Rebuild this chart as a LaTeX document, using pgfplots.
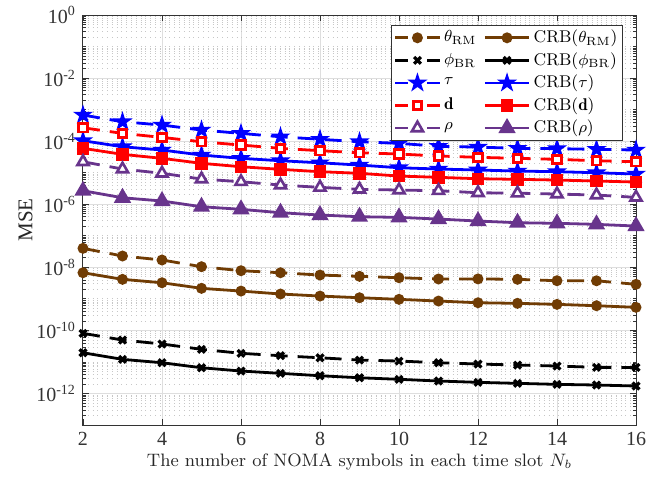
\documentclass[border=0pt]{standalone}
\usepackage{pgfplots}
\pgfplotsset{compat=1.18}
\usepackage{fontspec}
\newfontfamily\timesfont{Liberation Serif}
\definecolor{mybrown}{RGB}{112,60,4}
\definecolor{mypurple}{RGB}{104,52,140}
\definecolor{gridc}{RGB}{222,222,222}
\pgfdeclareplotmark{pent}{%
  \pgfpathmoveto{\pgfpointpolar{90}{\pgfplotmarksize}}%
  \pgfpathlineto{\pgfpointpolar{234}{\pgfplotmarksize}}%
  \pgfpathlineto{\pgfpointpolar{18}{\pgfplotmarksize}}%
  \pgfpathlineto{\pgfpointpolar{162}{\pgfplotmarksize}}%
  \pgfpathlineto{\pgfpointpolar{306}{\pgfplotmarksize}}%
  \pgfpathclose\pgfusepathqfillstroke}
\def\minorlist{}
\foreach \e in {-13,...,-1}{\foreach \k in {2,...,9}{\xdef\minorlist{\minorlist\k e\e,}}}
\xdef\minorlist{\minorlist 1e-11,1e-9,1e-7,1e-5,1e-3,1e-1}
\pgfplotsset{
  dsh/.style={dash pattern=on 8.5pt off 5pt, legend image post style={dash pattern=on 6.5pt off 9.5pt}},
}
\begin{document}
\begin{tikzpicture}
\begin{axis}[
  scale only axis,
  width=276.5pt, height=205pt,
  ymode=log, log basis y=10,
  xmin=2, xmax=16, ymin=1e-13, ymax=1,
  xtick={2,4,...,16},
  ytick={1e-12,1e-10,1e-8,1e-6,1e-4,1e-2,1},
  yticklabels={10\textsuperscript{-12},10\textsuperscript{-10},10\textsuperscript{-8},10\textsuperscript{-6},10\textsuperscript{-4},10\textsuperscript{-2},10\textsuperscript{0}},
  minor ytick/.expanded={\minorlist},
  /pgf/number format/assume math mode=true,
  tick label style={font=\timesfont\fontsize{10}{12}\selectfont, text=black!80},
  xmajorgrids, ymajorgrids, yminorgrids,
  major grid style={gridc, line width=0.5pt},
  minor grid style={black!22, dotted, line width=0.4pt},
  axis line style={black!80, line width=0.5pt},
  every tick/.style={black!80, line width=0.4pt},
  major tick length=3pt, minor tick length=1.6pt,
  xlabel={The number of NOMA symbols in each time slot $N_b$},
  ylabel={\timesfont\fontsize{10.5}{12}\selectfont MSE},
  label style={font=\fontsize{9}{11}\selectfont, text=black!85},
  xlabel style={yshift=3pt},
  ylabel style={yshift=-5pt},
  clip mode=individual,
  legend columns=2,
  legend cell align=left,
  legend style={at={(1,1)}, anchor=north east, xshift=-6.5pt, yshift=-5pt,
    draw=black!80, line width=0.5pt, fill=white, inner sep=1pt,
    font=\fontsize{8.5}{10}\selectfont,
    nodes={inner xsep=1.5pt, inner ysep=1.2pt},
    /tikz/every even column/.append style={column sep=2pt},
    row sep=1pt},
  legend image code/.code={\draw[mark repeat=2,mark phase=2] plot coordinates {(0cm,0cm) (0.39cm,0cm) (0.78cm,0cm)};},
  every axis plot/.append style={line width=1.4pt},
]
% theta_RM
\addplot[mybrown, dsh, mark=*, mark size=2pt, mark options={solid, fill=mybrown}] coordinates {
(2,4.01e-8) (3,2.29e-8) (4,1.71e-8) (5,1.05e-8) (6,7.82e-9) (7,6.75e-9) (8,5.70e-9) (9,5.19e-9)
(10,4.69e-9) (11,4.27e-9) (12,4.30e-9) (13,4.17e-9) (14,3.77e-9) (15,3.75e-9) (16,2.90e-9)};
\addlegendentry{$\theta_{\mathrm{RM}}$}
\addplot[mybrown, mark=*, mark size=2pt, mark options={solid, fill=mybrown}] coordinates {
(2,6.75e-9) (3,4.17e-9) (4,3.25e-9) (5,2.16e-9) (6,1.77e-9) (7,1.43e-9) (8,1.23e-9) (9,1.09e-9)
(10,9.68e-10) (11,8.55e-10) (12,7.55e-10) (13,7.23e-10) (14,6.71e-10) (15,6.07e-10) (16,5.40e-10)};
\addlegendentry{CRB($\theta_{\mathrm{RM}}$)}
% phi_BR
\addplot[black, dsh, mark=x, mark size=2.4pt, mark options={solid, line width=1.6pt}] coordinates {
(2,8.09e-11) (3,4.97e-11) (4,3.71e-11) (5,2.52e-11) (6,1.88e-11) (7,1.58e-11) (8,1.36e-11) (9,1.15e-11)
(10,1.07e-11) (11,9.46e-12) (12,8.61e-12) (13,8.0e-12) (14,7.43e-12) (15,6.76e-12) (16,6.7e-12)};
\addlegendentry{$\phi_{\mathrm{BR}}$}
\addplot[black, mark=x, mark size=2.4pt, mark options={solid, line width=1.6pt}] coordinates {
(2,1.96e-11) (3,1.21e-11) (4,9.46e-12) (5,6.56e-12) (6,5.16e-12) (7,4.36e-12) (8,3.66e-12) (9,3.16e-12)
(10,2.82e-12) (11,2.49e-12) (12,2.26e-12) (13,2.10e-12) (14,1.95e-12) (15,1.86e-12) (16,1.73e-12)};
\addlegendentry{CRB($\phi_{\mathrm{BR}}$)}
% tau
\addplot[blue, dsh, mark=pent, mark size=4pt, mark options={solid, fill=blue, line width=0.8pt}] coordinates {
(2,6.75e-4) (3,4.14e-4) (4,3.25e-4) (5,2.26e-4) (6,1.77e-4) (7,1.38e-4) (8,1.15e-4) (9,9.6e-5)
(10,8.55e-5) (11,6.9e-5) (12,6.5e-5) (13,5.94e-5) (14,5.8e-5) (15,5.52e-5) (16,5.25e-5)};
\addlegendentry{$\tau$}
\addplot[blue, mark=pent, mark size=4pt, mark options={solid, fill=blue, line width=0.8pt}] coordinates {
(2,1.035e-4) (3,6.67e-5) (4,5.25e-5) (5,3.64e-5) (6,2.86e-5) (7,2.40e-5) (8,2.07e-5) (9,1.75e-5)
(10,1.44e-5) (11,1.31e-5) (12,1.22e-5) (13,1.13e-5) (14,1.08e-5) (15,1.0e-5) (16,9.1e-6)};
\addlegendentry{CRB($\tau$)}
% d
\addplot[red, dsh, mark=square*, mark size=2.1pt, mark options={solid, fill=white, line width=1.4pt}] coordinates {
(2,2.67e-4) (3,1.77e-4) (4,1.32e-4) (5,9.6e-5) (6,7.55e-5) (7,5.94e-5) (8,4.99e-5) (9,4.31e-5)
(10,3.92e-5) (11,3.39e-5) (12,3.08e-5) (13,2.86e-5) (14,2.66e-5) (15,2.40e-5) (16,2.23e-5)};
\addlegendentry{$\mathbf{d}$}
\addplot[red, mark=square*, mark size=2.4pt, mark options={solid, fill=red}] coordinates {
(2,5.94e-5) (3,3.83e-5) (4,2.86e-5) (5,1.99e-5) (6,1.55e-5) (7,1.28e-5) (8,1.08e-5) (9,9.6e-6)
(10,7.85e-6) (11,7.15e-6) (12,6.46e-6) (13,6.18e-6) (14,5.87e-6) (15,5.46e-6) (16,5.07e-6)};
\addlegendentry{CRB($\mathbf{d}$)}
% rho
\addplot[mypurple, dsh, mark=triangle*, mark size=3.2pt, mark options={solid, fill=white, line width=1.3pt}] coordinates {
(2,2.23e-5) (3,1.31e-5) (4,9.6e-6) (5,6.31e-6) (6,5.19e-6) (7,4.07e-6) (8,3.44e-6) (9,2.98e-6)
(10,2.83e-6) (11,2.69e-6) (12,2.32e-6) (13,2.25e-6) (14,2.11e-6) (15,1.96e-6) (16,1.66e-6)};
\addlegendentry{$\rho$}
\addplot[mypurple, mark=triangle*, mark size=3.6pt, mark options={solid, fill=mypurple}] coordinates {
(2,2.69e-6) (3,1.61e-6) (4,1.27e-6) (5,8.36e-7) (6,6.92e-7) (7,5.40e-7) (8,4.56e-7) (9,4.03e-7)
(10,3.85e-7) (11,3.40e-7) (12,2.94e-7) (13,2.60e-7) (14,2.49e-7) (15,2.31e-7) (16,2.04e-7)};
\addlegendentry{CRB($\rho$)}
\end{axis}
\path (current axis.south west) ++(-41.5pt,-25pt) coordinate (bl);
\path (current axis.north east) ++(15.5pt,7.5pt) coordinate (tr);
\path (bl) rectangle (tr);
\end{tikzpicture}
\end{document}
